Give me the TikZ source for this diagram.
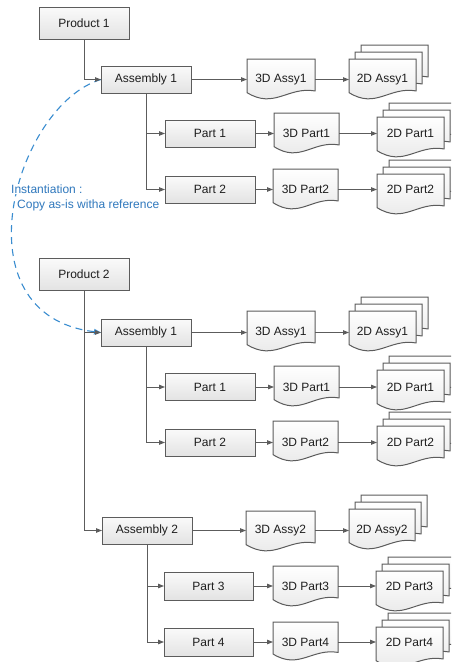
\documentclass[tikz,border=0pt]{standalone}
\usepackage{fontspec}
\setmainfont{Liberation Sans}
\usetikzlibrary{arrows.meta,calc}
\definecolor{edge}{HTML}{5C5C5C}
\definecolor{ink}{HTML}{1E1E1E}
\definecolor{instblue}{HTML}{2F78BD}
\definecolor{curveblue}{HTML}{3A8DD0}
\tikzset{
  box/.style={draw=edge, line width=1pt, top color=black!2, bottom color=black!11,
    minimum width=90pt, minimum height=27pt, inner sep=0pt, outer sep=0pt,
    font=\fontsize{12}{14}\selectfont, text=ink},
  docline/.style={draw=edge, line width=1pt, top color=white, bottom color=black!10},
  doctext/.style={minimum height=20pt, inner sep=0pt, outer sep=0pt,
    font=\fontsize{12}{14}\selectfont, text=ink},
  conn/.style={draw=edge, line width=0.9pt, -{Triangle[length=6pt,width=4.5pt]}},
  inst/.style={instblue, fill=white, inner sep=1pt, anchor=west,
    font=\fontsize{12}{14}\selectfont},
  curve/.style={draw=curveblue, line width=1.1pt, dash pattern=on 7pt off 5pt,
    -{Triangle[length=7pt,width=5.5pt]}}
}
% document outline: x y w h (top-left corner, width, height incl. wave)
\newcommand{\docshape}[4]{%
  \path[docline] ({#1},{#2}) -- ({#1+#3},{#2}) -- ({#1+#3},{#2+0.76*#4})
    .. controls ({#1+0.6*#3},{#2+0.65*#4}) and ({#1+0.4*#3},{#2+1.2*#4}) ..
    ({#1},{#2+0.8*#4}) -- cycle;}
\newcommand{\multidoc}[4]{%
  \docshape{#1+12}{#2-14}{#3}{#4}%
  \docshape{#1+6}{#2-7}{#3}{#4}%
  \docshape{#1}{#2}{#3}{#4}}
\begin{document}
\begin{tikzpicture}[x=1pt,y=-1pt]
\useasboundingbox (0,0) rectangle (451,662);
\clip (0,0) rectangle (451,662);
\fill[white] (0,0) rectangle (451,662);

% instantiation curve and label
\draw[curve] (101,79.5) .. controls (15,105) and (-45,315) .. (101,332.5);
\node[inst] (inst1) at (10,189) {Instantiation :};
\node[inst] (inst2) at (16,205) {Copy as-is witha reference};

% ---------- block 1 ----------
\node[box, minimum height=32pt] (prodA) at (84,23) {Product 1};
\node[box] (asmA) at (146,79.5) {Assembly 1};
\docshape{247}{59}{68}{42}
\node[doctext, minimum width=68pt] (d3A) at (281,79.5) {3D Assy1};
\multidoc{349}{59}{67}{42}
\node[doctext, minimum width=67pt] (d2A) at (382.5,79.5) {2D Assy1};

\node[box] (partA1) at (210,133.5) {Part 1};
\docshape{274}{113}{65}{42}
\node[doctext, minimum width=65pt] (d3A1) at (306.5,133.5) {3D Part1};
\multidoc{377}{117}{67}{42}
\node[doctext, minimum width=67pt] (d2A1) at (410.5,133.5) {2D Part1};

\node[box] (partA2) at (210,189.5) {Part 2};
\docshape{273}{169}{65}{42}
\node[doctext, minimum width=65pt] (d3A2) at (305.5,189.5) {3D Part2};
\multidoc{377}{174}{67}{42}
\node[doctext, minimum width=67pt] (d2A2) at (410.5,189.5) {2D Part2};

% ---------- block 2 ----------
\node[box, minimum height=32pt] (prodB) at (84,274.5) {Product 2};
\node[box] (asmB) at (146,332.5) {Assembly 1};
\docshape{247}{311}{68}{42}
\node[doctext, minimum width=68pt] (d3B) at (281,332.5) {3D Assy1};
\multidoc{349}{311}{67}{42}
\node[doctext, minimum width=67pt] (d2B) at (382.5,332.5) {2D Assy1};

\node[box] (partB1) at (210,387) {Part 1};
\docshape{274}{366}{65}{42}
\node[doctext, minimum width=65pt] (d3B1) at (306.5,387) {3D Part1};
\multidoc{377}{370}{67}{42}
\node[doctext, minimum width=67pt] (d2B1) at (410.5,387) {2D Part1};

\node[box] (partB2) at (210,442.5) {Part 2};
\docshape{273}{421}{65}{42}
\node[doctext, minimum width=65pt] (d3B2) at (305.5,442.5) {3D Part2};
\multidoc{377}{426}{67}{42}
\node[doctext, minimum width=67pt] (d2B2) at (410.5,442.5) {2D Part2};

% ---------- block 3 ----------
\node[box] (asmC) at (147,530.5) {Assembly 2};
\docshape{246}{511}{69}{42}
\node[doctext, minimum width=69pt] (d3C) at (280.5,530.5) {3D Assy2};
\multidoc{349}{509}{66}{42}
\node[doctext, minimum width=66pt] (d2C) at (382,530.5) {2D Assy2};

\node[box, minimum width=89pt, minimum height=28pt] (partC1) at (208.5,586) {Part 3};
\docshape{273}{566}{65}{42}
\node[doctext, minimum width=65pt] (d3C1) at (305.5,586) {3D Part3};
\multidoc{376}{571}{67}{42}
\node[doctext, minimum width=67pt] (d2C1) at (409.5,586) {2D Part3};

\node[box, minimum width=89pt, minimum height=28pt] (partC2) at (208.5,642) {Part 4};
\docshape{273}{622}{65}{40}
\node[doctext, minimum width=65pt] (d3C2) at (305.5,642) {3D Part4};
\multidoc{376}{627}{67}{42}
\node[doctext, minimum width=67pt] (d2C2) at (409.5,642) {2D Part4};

% ---------- connectors ----------
\draw[conn] (prodA.south) |- (asmA.west);
\draw[conn] (asmA.south) |- (partA1.west);
\draw[conn] (asmA.south) |- (partA2.west);
\draw[conn] (prodB.south) |- (asmB.west);
\draw[conn] (prodB.south) |- (asmC.west);
\draw[conn] (asmB.south) |- (partB1.west);
\draw[conn] (asmB.south) |- (partB2.west);
\draw[conn] (asmC.south) |- (partC1.west);
\draw[conn] (asmC.south) |- (partC2.west);

\foreach \a/\b in {asmA/d3A, partA1/d3A1, partA2/d3A2, asmB/d3B, partB1/d3B1,
  partB2/d3B2, asmC/d3C, partC1/d3C1, partC2/d3C2,
  d3A/d2A, d3A1/d2A1, d3A2/d2A2, d3B/d2B, d3B1/d2B1, d3B2/d2B2,
  d3C/d2C, d3C1/d2C1, d3C2/d2C2}
  \draw[conn] (\a.east) -- (\a.east -| \b.west);
\end{tikzpicture}
\end{document}
